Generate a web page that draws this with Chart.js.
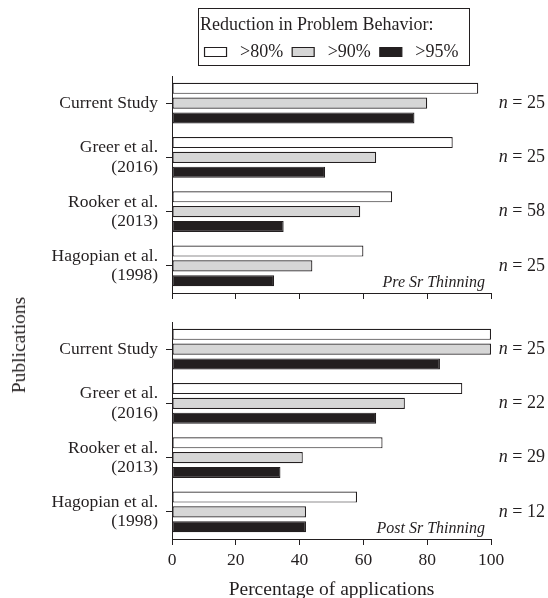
<!DOCTYPE html>
<html>
<head>
<meta charset="utf-8">
<script src="https://cdn.jsdelivr.net/npm/chart.js@4"></script>
<style>
  html, body { margin: 0; padding: 0; background: #fff; }
  #wrap { position: relative; width: 548px; height: 598px; font-family: "Liberation Serif", serif; color: #231f20; }
  #caixa-pre { position: absolute; left: 0; top: 0; width: 548px; height: 300px; }
  #caixa-pos { position: absolute; left: 0; top: 300px; width: 548px; height: 298px; }
  #titulo-y { position: absolute; left: 19px; top: 345px; transform: translate(-50%, -50%) rotate(-90deg);
              font-size: 19.5px; white-space: nowrap; }
</style>
</head>
<body>
<div id="wrap">
  <div id="caixa-pre"><canvas id="chart-pre"></canvas></div>
  <div id="caixa-pos"><canvas id="chart-pos"></canvas></div>
  <div id="titulo-y">Publications</div>
</div>
<script>
// ─── Dados ────────────────────────────────────────────────────────────────────
const publicacoes = [['Current Study'], ['Greer et al.', '(2016)'], ['Rooker et al.', '(2013)'], ['Hagopian et al.', '(1998)']];
const faixas      = ['>80%', '>90%', '>95%'];
const pre80 = [96, 88, 69, 60];
const pre90 = [80, 64, 59, 44];
const pre95 = [76, 48, 35, 32];
const pos80 = [100, 91, 66, 58];
const pos90 = [100, 73, 41, 42];
const pos95 = [84, 64, 34, 42];
const nPre  = [25, 25, 58, 25];
const nPos  = [25, 22, 29, 12];
const ticksX = [0, 20, 40, 60, 80, 100];

const PRETO = '#231f20';
const CORES = ['#ffffff', '#d6d6d6', '#231f20'];
const FONTE = '"Liberation Serif", "Times New Roman", serif';

Chart.defaults.font.family = FONTE;
Chart.defaults.font.size = 17.5;
Chart.defaults.color = PRETO;

// ─── Plugins ──────────────────────────────────────────────────────────────────
// "n = xx" à direita de cada grupo + nome do painel
const rotulosN = {
  id: 'rotulosN',
  afterDraw(chart, _args, opts) {
    const { ctx, chartArea, scales } = chart;
    ctx.save();
    ctx.fillStyle = PRETO;
    ctx.textBaseline = 'middle';
    ctx.textAlign = 'right';
    opts.valores.forEach((n, i) => {
      const y = scales.y.getPixelForValue(i);
      const xDir = chart.width - 3;
      const resto = ' = ' + n;
      ctx.font = '18px ' + FONTE;
      ctx.fillText(resto, xDir, y);
      const w = ctx.measureText(resto).width;
      ctx.font = 'italic 18px ' + FONTE;
      ctx.fillText('n', xDir - w, y);
    });
    ctx.font = 'italic 16px ' + FONTE;
    ctx.textBaseline = 'alphabetic';
    ctx.fillText(opts.painel, chartArea.right - 6, chartArea.bottom - 6);
    ctx.restore();
  },
};

// Moldura em volta da legenda
const bordaLegenda = {
  id: 'bordaLegenda',
  afterDraw(chart) {
    const lg = chart.legend;
    if (!lg || !lg.options.display || !lg.legendHitBoxes.length) return;
    const cx = lg.legendHitBoxes;
    const esq   = Math.min(...cx.map(b => b.left)) - 7;
    const dir   = Math.max(...cx.map(b => b.left + b.width)) + 10;
    const baixo = Math.max(...cx.map(b => b.top + b.height)) + 3.5;
    const ctx = chart.ctx;
    ctx.save();
    ctx.strokeStyle = PRETO;
    ctx.lineWidth = 1;
    ctx.strokeRect(Math.round(esq) + 0.5, Math.round(lg.top) + 0.5, Math.round(dir - esq), Math.round(baixo - lg.top));
    ctx.restore();
  },
};

// ─── Monta cada painel ────────────────────────────────────────────────────────
function montarPainel(canvasId, series, nValores, painel, ehBase) {
  const datasets = series.map((valores, i) => ({
    label: faixas[i],
    data: valores,
    backgroundColor: CORES[i],
    borderColor: PRETO,
    borderWidth: 1.2,
    borderSkipped: false,
    categoryPercentage: 0.82,
    barPercentage: 0.75,
  }));

  return new Chart(document.getElementById(canvasId), {
    type: 'bar',
    data: { labels: publicacoes, datasets },
    plugins: [rotulosN, bordaLegenda],
    options: {
      indexAxis: 'y',
      responsive: true,
      maintainAspectRatio: false,
      animation: false,
      layout: { padding: ehBase ? { top: 22, right: 57, bottom: 0 } : { top: 8, right: 57, bottom: 1 } },
      plugins: {
        tooltip: { enabled: false },
        legend: {
          display: !ehBase,
          fullSize: false,
          labels: {
            boxWidth: 22, boxHeight: 9, padding: 9, color: PRETO, font: { size: 18 },
            // espaço extra entre a amostra e o texto
            generateLabels: ch => Chart.defaults.plugins.legend.labels.generateLabels(ch)
              .map(item => ({ ...item, text: ' ' + item.text })),
          },
          title: { display: true, text: 'Reduction in Problem Behavior:', position: 'start',
                   color: PRETO, font: { size: 18, lineHeight: 1 }, padding: { top: 8, bottom: 0 } },
        },
        // espaçador entre a legenda e o gráfico
        subtitle: { display: !ehBase, text: '', weight: 100, padding: 0, font: { size: 5, lineHeight: 1 } },
        rotulosN: { valores: nValores, painel },
      },
      scales: {
        x: {
          min: 0, max: 100,
          afterBuildTicks: s => { s.ticks = ticksX.map(v => ({ value: v })); },
          ticks: { display: ehBase, padding: 5, color: PRETO, font: { size: 17.5 } },
          grid: { drawOnChartArea: false, tickLength: 6, color: PRETO },
          border: { color: PRETO },
          title: { display: ehBase, text: 'Percentage of applications', color: PRETO,
                   font: { size: 19.5, lineHeight: 1 }, padding: { top: 4.5, bottom: -2 } },
        },
        y: {
          afterFit: s => { s.width = 172; s.paddingTop = 0; s.paddingBottom = 0; },
          ticks: { padding: 8, color: PRETO, font: { size: 17.5, lineHeight: 1.1 } },
          grid: { offset: false, drawOnChartArea: false, tickLength: 6, color: PRETO },
          border: { color: PRETO },
        },
      },
    },
  });
}

montarPainel('chart-pre', [pre80, pre90, pre95], nPre, 'Pre Sr Thinning', false);
montarPainel('chart-pos', [pos80, pos90, pos95], nPos, 'Post Sr Thinning', true);
</script>
</body>
</html>
